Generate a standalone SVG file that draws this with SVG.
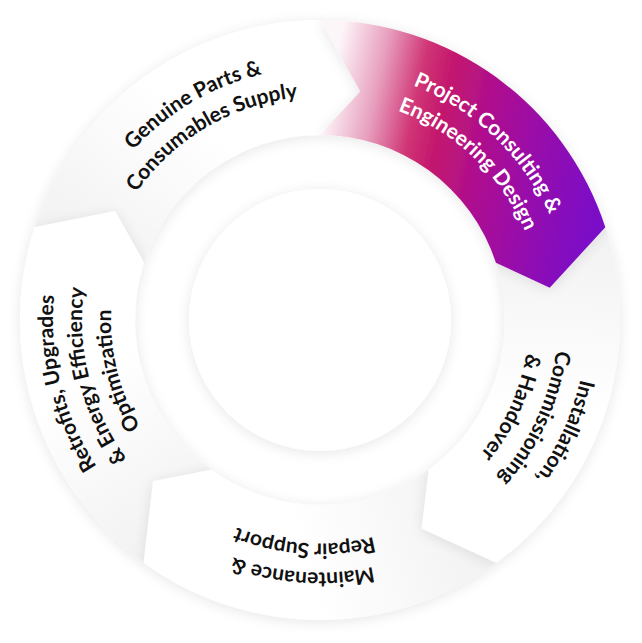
<svg xmlns="http://www.w3.org/2000/svg" xmlns:xlink="http://www.w3.org/1999/xlink" width="642" height="643" viewBox="0 0 642 643">
  <style>
    .lbl { font-family: Lato, "Open Sans", "Liberation Sans", sans-serif; font-size: 21px; font-weight: 700; fill: #111111; }
    .lbl-w { fill: #ffffff; }
  </style>
  <defs>
    <filter id="sh" x="-30%" y="-30%" width="160%" height="160%">
      <feGaussianBlur in="SourceAlpha" stdDeviation="7"/>
      <feOffset dx="0" dy="2" result="b"/>
      <feComponentTransfer><feFuncA type="linear" slope="0.10"/></feComponentTransfer>
      <feMerge><feMergeNode/><feMergeNode in="SourceGraphic"/></feMerge>
    </filter>
    <linearGradient id="pg" gradientUnits="userSpaceOnUse" x1="325" y1="110" x2="610" y2="170">
      <stop offset="0" stop-color="#fdf6f9"/>
      <stop offset="0.16" stop-color="#e79fbe"/>
      <stop offset="0.30" stop-color="#d03575"/>
      <stop offset="0.40" stop-color="#c3166e"/>
      <stop offset="0.54" stop-color="#b0108c"/>
      <stop offset="0.72" stop-color="#9a10a8"/>
      <stop offset="0.93" stop-color="#800fc2"/>
      <stop offset="1" stop-color="#7a0cc8"/>
    </linearGradient>
    <linearGradient id="g2" gradientUnits="userSpaceOnUse" x1="550.16" y1="245.22" x2="544.38" y2="410.65">
      <stop offset="0" stop-color="#f3f3f3"/><stop offset="1" stop-color="#ffffff"/>
    </linearGradient>
    <linearGradient id="g3" gradientUnits="userSpaceOnUse" x1="462.24" y1="515.78" x2="303.12" y2="561.41">
      <stop offset="0" stop-color="#f3f3f3"/><stop offset="1" stop-color="#ffffff"/>
    </linearGradient>
    <linearGradient id="g4" gradientUnits="userSpaceOnUse" x1="177.76" y1="515.78" x2="85.19" y2="378.55">
      <stop offset="0" stop-color="#f3f3f3"/><stop offset="1" stop-color="#ffffff"/>
    </linearGradient>
    <linearGradient id="g5" gradientUnits="userSpaceOnUse" x1="89.84" y1="245.22" x2="191.76" y2="114.77">
      <stop offset="0" stop-color="#f3f3f3"/><stop offset="1" stop-color="#ffffff"/>
    </linearGradient>
    <path id="a252" d="M 101.33 193.75 A 252.5 252.5 0 0 1 538.67 193.75"/>
    <path id="a223" d="M 126.44 208.25 A 223.5 223.5 0 0 1 513.56 208.25"/>
    <path id="a267" d="M 88.77 186.5 A 267 267 0 0 1 551.23 186.5"/>
    <path id="a238" d="M 113.89 201 A 238 238 0 0 1 526.11 201"/>
    <path id="a209" d="M 139 215.5 A 209 209 0 0 1 501 215.5"/>
  </defs>

  <rect width="642" height="643" fill="#ffffff"/>

  <g id="inner-disk">
    <circle cx="320" cy="320" r="131" fill="#ffffff" filter="url(#sh)"/>
  </g>

  <g id="genuine-parts">
    <path d="M 34.68 227.30 A 300 300 0 0 1 320 20 L 360.29 91.52 L 320 135 A 185 185 0 0 0 144.05 262.83 L 115.16 211.08 Z" fill="url(#g5)" filter="url(#sh)"/>
  </g>
  <g id="retrofits">
    <path d="M 143.66 562.71 A 300 300 0 0 1 34.68 227.30 L 115.16 211.08 L 144.05 262.83 A 185 185 0 0 0 211.26 469.67 L 153.11 481.16 Z" fill="url(#g4)" filter="url(#sh)"/>
  </g>
  <g id="maintenance">
    <path d="M 496.34 562.71 A 300 300 0 0 1 143.66 562.71 L 153.11 481.16 L 211.26 469.67 A 185 185 0 0 0 428.74 469.67 L 421.70 528.52 Z" fill="url(#g3)" filter="url(#sh)"/>
  </g>
  <g id="installation">
    <path d="M 605.32 227.30 A 300 300 0 0 1 496.34 562.71 L 421.70 528.52 L 428.74 469.67 A 185 185 0 0 0 495.95 262.83 L 549.74 287.71 Z" fill="url(#g2)" filter="url(#sh)"/>
  </g>
  <g id="project-consulting">
    <path d="M 320 20 A 300 300 0 0 1 605.32 227.30 L 549.74 287.71 L 495.95 262.83 A 185 185 0 0 0 320 135 L 360.29 91.52 Z" fill="url(#pg)" filter="url(#sh)"/>
  </g>

  <g id="labels">
    <g transform="rotate(43.5 320 320)">
      <text class="lbl lbl-w" text-anchor="middle"><textPath href="#a252" xlink:href="#a252" startOffset="50%">Project Consulting &amp;</textPath></text>
      <text class="lbl lbl-w" text-anchor="middle"><textPath href="#a223" xlink:href="#a223" startOffset="50%">Engineering Design</textPath></text>
    </g>
    <g transform="rotate(114.5 320 320)">
      <text class="lbl" text-anchor="middle"><textPath href="#a267" xlink:href="#a267" startOffset="50%">Installation,</textPath></text>
      <text class="lbl" text-anchor="middle"><textPath href="#a238" xlink:href="#a238" startOffset="50%">Commissioning</textPath></text>
      <text class="lbl" text-anchor="middle"><textPath href="#a209" xlink:href="#a209" startOffset="50%">&amp; Handover</textPath></text>
    </g>
    <g transform="rotate(184 320 320)">
      <text class="lbl" text-anchor="middle"><textPath href="#a252" xlink:href="#a252" startOffset="50%">Maintenance &amp;</textPath></text>
      <text class="lbl" text-anchor="middle"><textPath href="#a223" xlink:href="#a223" startOffset="50%">Repair Support</textPath></text>
    </g>
    <g transform="rotate(256 320 320)">
      <text class="lbl" text-anchor="middle"><textPath href="#a267" xlink:href="#a267" startOffset="50%">Retrofits, Upgrades</textPath></text>
      <text class="lbl" text-anchor="middle"><textPath href="#a238" xlink:href="#a238" startOffset="50%">&amp; Energy Efficiency</textPath></text>
      <text class="lbl" text-anchor="middle"><textPath href="#a209" xlink:href="#a209" startOffset="50%">Optimization</textPath></text>
    </g>
    <g transform="rotate(-30.5 320 320)">
      <text class="lbl" text-anchor="middle"><textPath href="#a252" xlink:href="#a252" startOffset="50%">Genuine Parts &amp;</textPath></text>
      <text class="lbl" text-anchor="middle"><textPath href="#a223" xlink:href="#a223" startOffset="50%">Consumables Supply</textPath></text>
    </g>
  </g>
</svg>
